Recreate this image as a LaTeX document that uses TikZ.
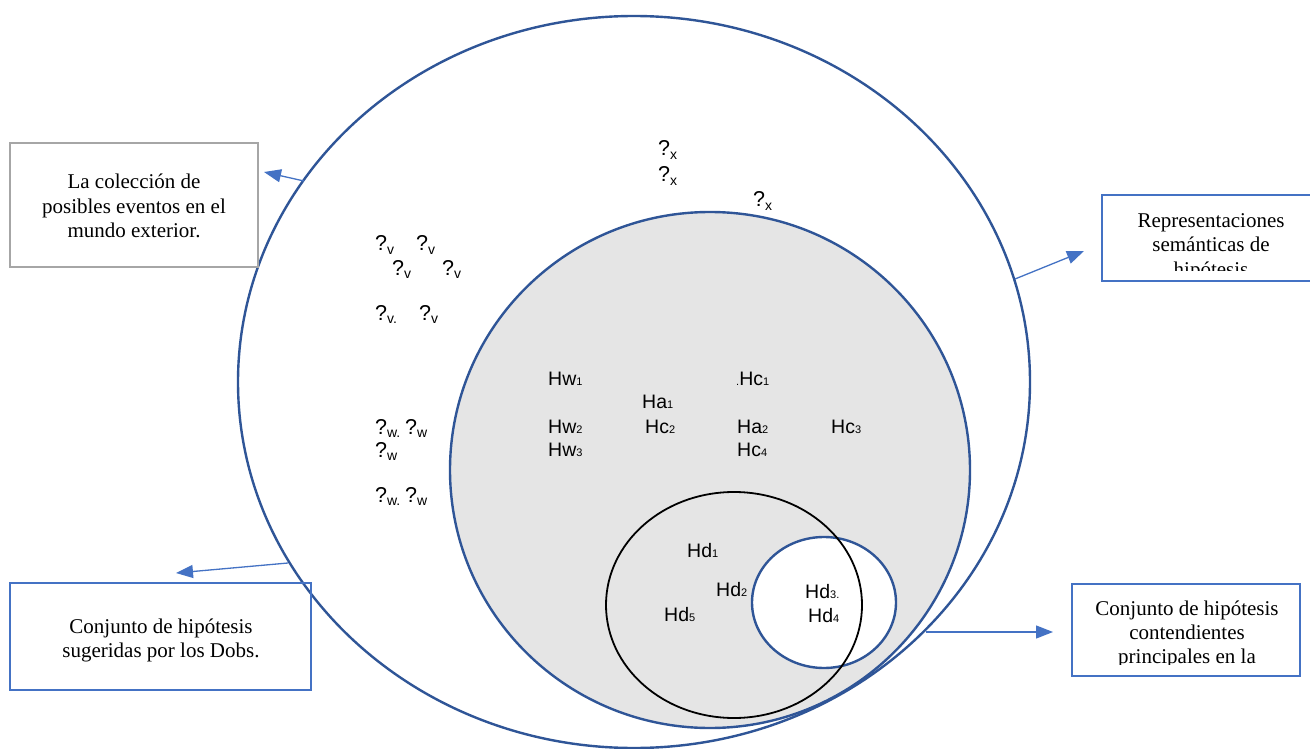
\documentclass[tikz,border=0pt]{standalone}
\usepackage{fontspec}
\setmainfont{Liberation Serif}
\setsansfont{Liberation Sans}
\usetikzlibrary{arrows.meta,shapes.geometric}
\definecolor{ell}{RGB}{47,85,151}
\definecolor{boxblue}{RGB}{68,114,196}
\definecolor{boxgray}{RGB}{166,166,166}
\definecolor{fillgray}{RGB}{229,229,229}
\newcommand\qsub[1]{{\fontsize{21.5}{22}\selectfont ?}\raisebox{-3.5pt}{\fontsize{14}{14}\selectfont #1}}
\newcommand\hsub[2]{#1{\fontsize{11}{11}\selectfont #2}}
\begin{document}
\begin{tikzpicture}[x=1pt,y=-1pt,
  lab/.style={font=\sffamily\fontsize{19.5}{20}\selectfont, inner sep=0pt, anchor=base west},
  btxt/.style={font=\fontsize{21}{24}\selectfont, inner sep=0pt, anchor=base},
  bluebox/.style={draw=boxblue, line width=2.5pt, inner sep=0pt},
  graybox/.style={draw=boxgray, line width=2.5pt, inner sep=0pt},
  conn/.style={draw=boxblue, line width=1.3pt, -{Triangle[length=17pt,width=13pt]}},
  ring/.style={ellipse, draw=ell, line width=2.4pt, inner sep=0pt}]
\useasboundingbox (0,0) rectangle (1310,749);
\fill[white] (0,0) rectangle (1310,749);
% sets
\node[ring, minimum width=792pt, minimum height=732pt] (outer) at (634,382) {};
\node[ring, fill=fillgray, minimum width=520pt, minimum height=516pt] (gray) at (710,470) {};
\node[ring, fill=white, minimum width=144pt, minimum height=131pt] (small) at (824,602.5) {};
\node[ellipse, draw=black, line width=1.8pt, inner sep=0pt, minimum width=256pt, minimum height=226pt] (black) at (734,605) {};
% boxes
\node[graybox, minimum width=248pt, minimum height=124pt] (b1) at (134,205) {};
\node[bluebox, minimum width=220pt, minimum height=86pt] (b2) at (1212,238) {};
\node[bluebox, minimum width=301pt, minimum height=107pt] (b3) at (160.5,636.5) {};
\node[bluebox, minimum width=228pt, minimum height=92pt] (b4) at (1186,630) {};
% box texts
\node[btxt] (t1a) at (134,189) {La colección de};
\node[btxt] (t1b) at (134,213) {posibles eventos en el};
\node[btxt] (t1c) at (134,237) {mundo exterior.};
\begin{scope}
\clip (1100,190) rectangle (1310,270);
\node[btxt] (t2a) at (1211,227) {Representaciones};
\node[btxt] (t2b) at (1211,251.5) {semánticas de};
\node[btxt] (t2c) at (1211,276) {hipótesis};
\end{scope}
\node[btxt] (t3a) at (161,633) {Conjunto de hipótesis};
\node[btxt] (t3b) at (161,657) {sugeridas por los Dobs.};
\begin{scope}
\clip (1070,580) rectangle (1302,664);
\node[btxt] (t4a) at (1187,615) {Conjunto de hipótesis};
\node[btxt] (t4b) at (1187,639) {contendientes};
\node[btxt] (t4c) at (1187,663) {principales en la};
\end{scope}
% connectors
\coordinate (a1s) at (304,181); \coordinate (a1e) at (264,172);
\coordinate (a2s) at (1015,279); \coordinate (a2e) at (1084,251);
\coordinate (a3s) at (288,563); \coordinate (a3e) at (176,573);
\coordinate (a4s) at (926,632); \coordinate (a4e) at (1053,632);
\draw[conn] (a1s) -- (a1e);
\draw[conn] (a2s) -- (a2e);
\draw[conn] (a3s) -- (a3e);
\draw[conn] (a4s) -- (a4e);
% question labels
\node[lab] (x1) at (658,156) {\qsub{x}};
\node[lab] (x2) at (658,182) {\qsub{x}};
\node[lab] (x3) at (753,207) {\qsub{x}};
\node[lab] (v1) at (375,251) {\qsub{v}};
\node[lab] (v2) at (416,251) {\qsub{v}};
\node[lab] (v3) at (392,275) {\qsub{v}};
\node[lab] (v4) at (442,275) {\qsub{v}};
\node[lab] (v5) at (375,320) {\qsub{v.}};
\node[lab] (v6) at (419,320) {\qsub{v}};
\node[lab] (w1) at (375,434) {\qsub{w.}};
\node[lab] (w2) at (405,434) {\qsub{w}};
\node[lab] (w3) at (375,457) {\qsub{w}};
\node[lab] (w4) at (375,502) {\qsub{w.}};
\node[lab] (w5) at (405,502) {\qsub{w}};
% hypothesis labels
\node[lab] (hw1) at (548,385) {\hsub{Hw}{1}};
\node[lab] (hw2) at (548,433) {\hsub{Hw}{2}};
\node[lab] (hw3) at (548,456) {\hsub{Hw}{3}};
\node[lab] (ha1) at (642,408) {\hsub{Ha}{1}};
\node[lab] (hc2) at (645,433) {\hsub{Hc}{2}};
\node[lab] (hc1) at (736,385) {{\fontsize{11}{11}\selectfont .}\hsub{Hc}{1}};
\node[lab] (ha2) at (737,433) {\hsub{Ha}{2}};
\node[lab] (hc4) at (737,456) {\hsub{Hc}{4}};
\node[lab] (hc3) at (831,433) {\hsub{Hc}{3}};
\node[lab] (hd1) at (687,557) {\hsub{Hd}{1}};
\node[lab] (hd2) at (716,596) {\hsub{Hd}{2}};
\node[lab] (hd5) at (664,621) {\hsub{Hd}{5}};
\node[lab] (hd3) at (805,598) {\hsub{Hd}{3.}};
\node[lab] (hd4) at (808,622) {\hsub{Hd}{4}};
\end{tikzpicture}
\end{document}
